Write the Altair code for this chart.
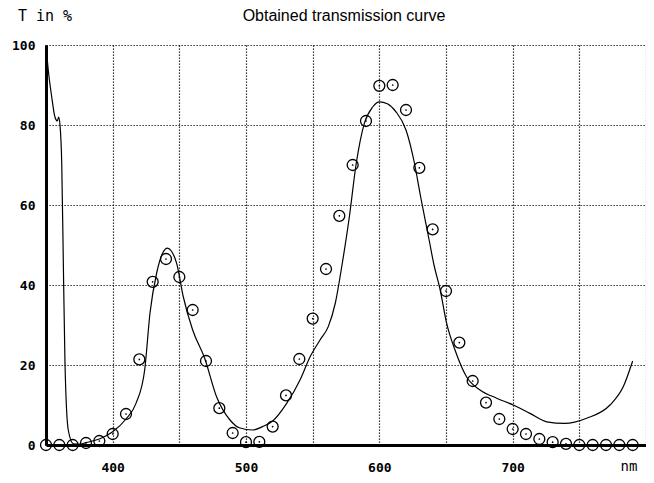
import altair as alt
import pandas as pd

# Measured points (circles), every 10 nm
point_nm = list(range(350, 800, 10))
point_T = [0, 0, 0, 0.5, 1, 2.75, 7.75, 21.4, 40.8, 46.5,
           42, 33.75, 21, 9.2, 3, 0.7, 0.8, 4.6, 12.4, 21.5,
           31.6, 44, 57.3, 70, 81, 89.8, 90, 83.75, 69.3, 53.9,
           38.5, 25.6, 16, 10.6, 6.5, 4, 2.75, 1.5, 0.7, 0.3,
           0, 0, 0, 0, 0]

# Obtained transmission curve
curve_nm = [350, 351.7, 354.3, 356.7, 358.5, 359.5, 360.5, 361.8, 363, 364.25,
            366.7, 370.5, 375, 380, 390, 400, 410, 417.5, 424, 428,
            433, 438, 441, 444, 448, 453, 460, 469, 478, 488,
            495, 505, 512.5, 520, 530.5, 540.5, 548, 555.5, 561.7, 567,
            572, 577.5, 582.5, 588.75, 595, 600, 606, 612.5, 620, 626,
            631, 637.5, 641, 645.5, 650.5, 656.75, 665.5, 675.5, 688, 700.5,
            713, 725.5, 739, 755.5, 773, 783, 790]
curve_T = [100, 93.75, 87, 82, 81, 82, 80, 70.4, 45.4, 20.4,
           3.75, 0.3, 0.2, 0.6, 1.5, 3.3, 6.5, 10.4, 18.75, 33,
           43, 48.3, 49.2, 48.5, 45.4, 37, 28.75, 21.7, 12, 6.25,
           4.3, 3.75, 4.6, 6, 10.4, 16.25, 22, 26.25, 29.6, 35.5,
           45, 57, 70, 80.4, 84.5, 85.8, 85.3, 83.3, 78.75, 71,
           62, 51, 45, 39, 30.4, 23.75, 17, 13.75, 11.7, 10,
           7.9, 5.8, 5.4, 6.7, 10, 14.6, 21]

x_ticks = list(range(350, 801, 50))
y_ticks = list(range(0, 101, 10))

pts = pd.DataFrame({"nm": point_nm, "T": point_T})
crv = pd.DataFrame({"nm": curve_nm, "T": curve_T})

xscale = alt.Scale(domain=[350, 800], nice=False, zero=False)
yscale = alt.Scale(domain=[0, 100], nice=False)

xaxis = alt.Axis(
    values=x_ticks, title=None, ticks=False,
    labelExpr="(datum.value % 100 == 0 && datum.value >= 400 && datum.value <= 700) ? datum.label : ''",
    labelFont="DejaVu Sans Mono", labelFontSize=13, labelFontWeight="bold",
    labelColor="black", labelPadding=16, labelFlush=False,
    grid=True, gridColor="black", gridDash=[1.2, 1.8], gridWidth=1.2, gridOpacity=1,
    domainColor="black", domainWidth=3,
)
yaxis = alt.Axis(
    values=y_ticks, title=None, ticks=False,
    labelExpr="(datum.value % 20 == 0) ? datum.label : ''",
    labelFont="DejaVu Sans Mono", labelFontSize=13, labelFontWeight="bold",
    labelColor="black", labelPadding=11, labelFlush=False,
    grid=True, gridColor="black", gridDash=[1.2, 1.8], gridWidth=1.2, gridOpacity=1,
    domainColor="black", domainWidth=3,
)

line = alt.Chart(crv).mark_line(color="black", strokeWidth=1.2, interpolate="monotone").encode(
    x=alt.X("nm:Q", scale=xscale, axis=xaxis),
    y=alt.Y("T:Q", scale=yscale, axis=yaxis),
)

circles = alt.Chart(pts).mark_point(shape="circle", filled=False, color="black",
                                    size=120, strokeWidth=1.3, opacity=1).encode(
    x=alt.X("nm:Q", scale=xscale),
    y=alt.Y("T:Q", scale=yscale),
)
dots = alt.Chart(pts).mark_circle(color="black", size=3, opacity=1).encode(
    x=alt.X("nm:Q", scale=xscale),
    y=alt.Y("T:Q", scale=yscale),
)

ylabel = alt.Chart(pd.DataFrame({"t": ["T in %"]})).mark_text(
    font="DejaVu Sans Mono", fontSize=15, color="black", align="center", baseline="middle"
).encode(text="t:N", x=alt.value(-1), y=alt.value(-29))

title = alt.Chart(pd.DataFrame({"t": ["Obtained transmission curve"]})).mark_text(
    font="Liberation Sans", fontSize=16, color="black", align="center", baseline="middle"
).encode(text="t:N", x=alt.value(298), y=alt.value(-29))

nm = alt.Chart(pd.DataFrame({"t": ["nm"]})).mark_text(
    font="DejaVu Sans Mono", fontSize=14, color="black", align="center", baseline="middle"
).encode(text="t:N", x=alt.value(583), y=alt.value(422))

chart = alt.layer(line, circles, dots, ylabel, title, nm).properties(
    width=600, height=400,
    autosize=alt.AutoSizeParams(type="none"),
    padding={"left": 38, "top": 37, "right": 0, "bottom": 30},
    background="white",
).configure_view(strokeWidth=0)

chart.save("out.html", embed_options={"renderer": "svg", "actions": False})
